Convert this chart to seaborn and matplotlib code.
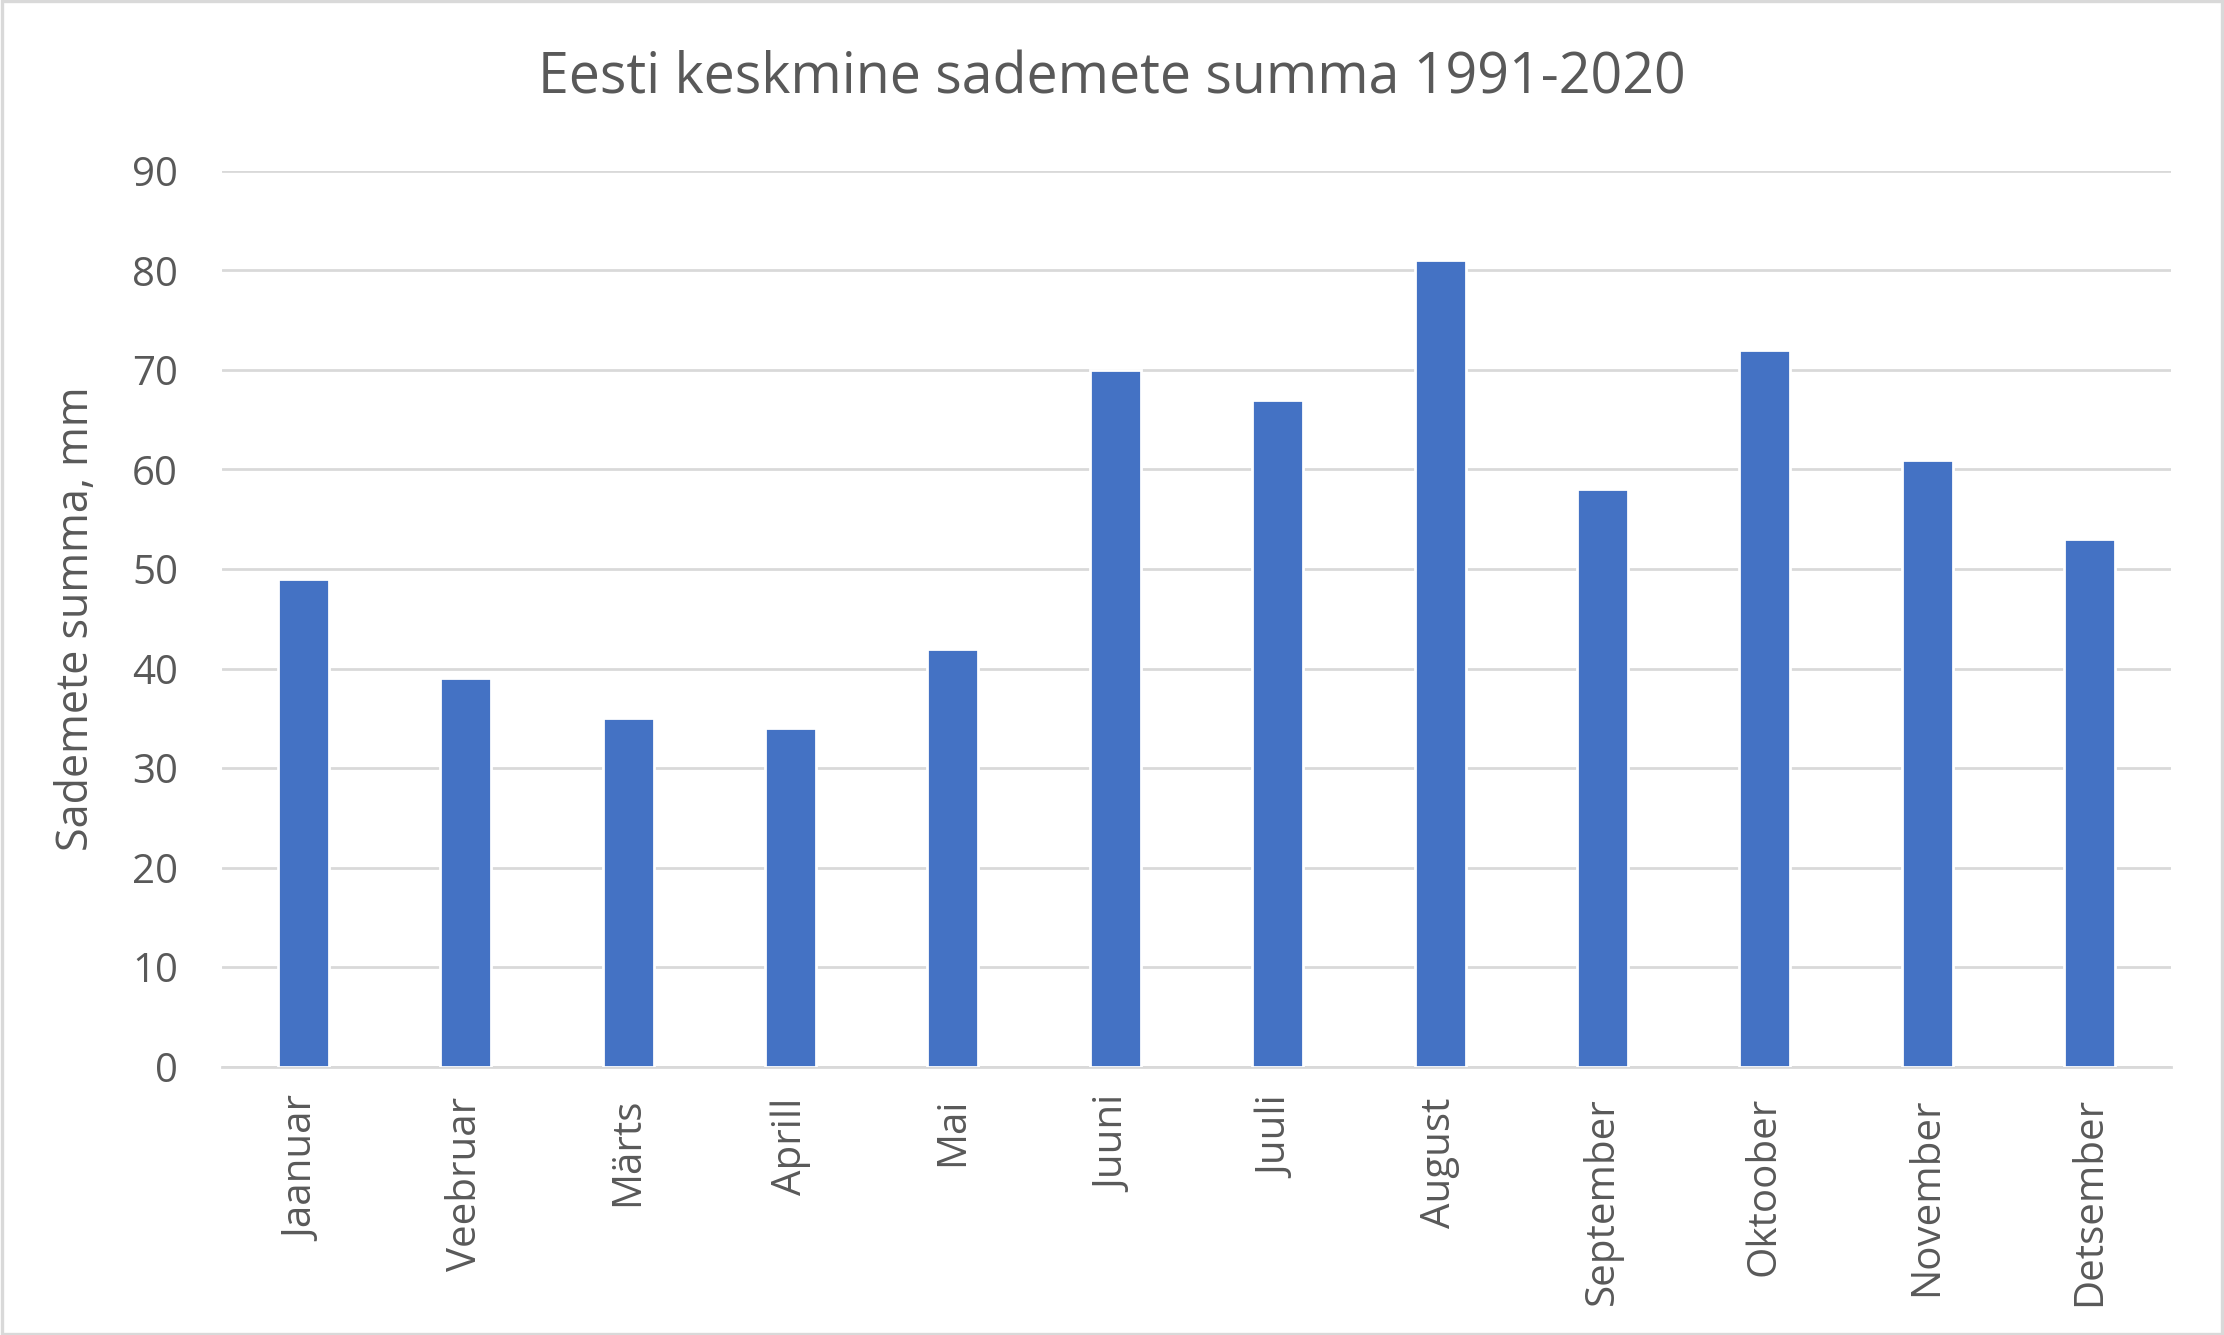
import matplotlib
matplotlib.use("Agg")
import matplotlib.pyplot as plt
import seaborn as sns
import pandas as pd

# Monthly average precipitation in Estonia 1991-2020 (mm)
months = ["Jaanuar", "Veebruar", "Märts", "Aprill", "Mai", "Juuni",
          "Juuli", "August", "September", "Oktoober", "November", "Detsember"]
precip = [49, 39, 35, 34, 42, 70, 67, 81, 58, 72, 61, 53]
yticks = [0, 10, 20, 30, 40, 50, 60, 70, 80, 90]

df = pd.DataFrame({"kuu": months, "sademed": precip})

sns.set_theme(style="white")
plt.rcParams["font.family"] = ["Open Sans", "DejaVu Sans"]
text_col = "#595959"

fig = plt.figure(figsize=(11.12, 6.675), dpi=200)
ax = fig.add_axes([0.100, 0.201, 0.876, 0.671])

sns.barplot(data=df, x="kuu", y="sademed", color="#4472C4", saturation=1,
            width=0.314, ax=ax, zorder=3)

ax.set_ylim(0, 90)
ax.set_yticks(yticks)
ax.set_xlim(-0.5, len(months) - 0.5)
ax.grid(axis="y", color="#D9D9D9", linewidth=1.0, zorder=0)
ax.grid(axis="x", visible=False)
for s in ["top", "right", "left"]:
    ax.spines[s].set_visible(False)
ax.spines["bottom"].set_color("#D9D9D9")
ax.spines["bottom"].set_linewidth(1.0)

ax.tick_params(axis="y", length=0, labelsize=14.5, colors=text_col, pad=16)
ax.tick_params(axis="x", length=0, labelsize=14.5, colors=text_col, pad=11)
plt.setp(ax.get_xticklabels(), rotation=90)

ax.set_xlabel("")
ax.set_ylabel("Sademete summa, mm", fontsize=15.5, color=text_col, labelpad=12)
fig.suptitle("Eesti keskmine sademete summa 1991-2020", fontsize=20,
             color=text_col, y=0.962)

# light border around the figure
fig.patches.append(plt.Rectangle((0.001, 0.001), 0.998, 0.998, transform=fig.transFigure,
                                 fill=False, edgecolor="#D9D9D9", linewidth=1.2))

fig.savefig("out.png", dpi=200)
